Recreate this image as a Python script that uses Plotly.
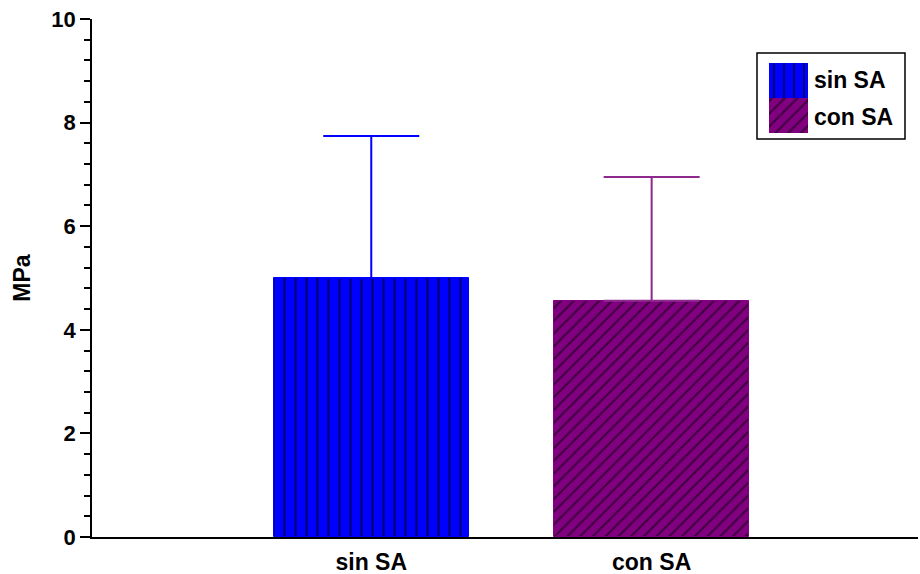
import plotly.graph_objects as go

# Data
categories = ["sin SA", "con SA"]
means = [5.0, 4.56]
errors_up = [2.74, 2.39]
y_ticks = [0, 2, 4, 6, 8, 10]

fill_colors = ["#0000FF", "#800080"]
err_colors = ["#0000FF", "#8E2A8E"]
patterns = ["|", "/"]
pattern_sizes = [11, 9]

FONT = "Liberation Sans, Arial, sans-serif"
FSIZE = 23

fig = go.Figure()

for i, cat in enumerate(categories):
    fig.add_trace(go.Bar(
        x=[cat], y=[means[i]], width=0.695, name=cat,
        marker=dict(color=fill_colors[i],
                    line=dict(color=fill_colors[i], width=1),
                    pattern=dict(shape=patterns[i], fgcolor="black",
                                 bgcolor=fill_colors[i], size=pattern_sizes[i],
                                 solidity=0.22, fillmode="overlay")),
        error_y=dict(type="data", symmetric=False, array=[errors_up[i]],
                     arrayminus=[0], color=err_colors[i], thickness=2, width=48),
        showlegend=False, xaxis="x", yaxis="y",
    ))

# Legend swatches drawn as stacked bars on a small inset axis
for i, cat in enumerate(categories):
    fig.add_trace(go.Bar(
        x=[0], y=[1], base=[1 - i], width=1,
        marker=dict(color=fill_colors[i], line=dict(width=0),
                    pattern=dict(shape=patterns[i], fgcolor="black",
                                 bgcolor=fill_colors[i], size=[10, 9][i],
                                 solidity=0.22, fillmode="overlay")),
        showlegend=False, hoverinfo="skip", xaxis="x2", yaxis="y2",
    ))

L, T, B, R = 92, 19, 37, 2
W, H = 920, 574
pw, ph = W - L - R, H - T - B

def px(x):
    return (x - L) / pw

def py(y):
    return (H - B - y) / ph

annotations = []
for i, cat in enumerate(categories):
    annotations.append(dict(
        x=px(812), y=py([80, 117][i]), xref="paper", yref="paper",
        text=f"<b>{cat}</b>", showarrow=False, xanchor="left", yanchor="middle",
        font=dict(family=FONT, size=FSIZE, color="black"),
    ))

fig.update_layout(
    width=W, height=H,
    margin=dict(l=L, r=R, t=T, b=B),
    paper_bgcolor="white", plot_bgcolor="white",
    barmode="overlay",
    font=dict(family=FONT, color="black"),
    xaxis=dict(
        type="category", categoryorder="array", categoryarray=categories,
        range=[-0.996, 1.95], showgrid=False, zeroline=False, automargin=False,
        showline=True, linecolor="black", linewidth=1.5,
        ticks="outside", ticklen=4, tickcolor="rgba(0,0,0,0)",
        tickfont=dict(family=FONT, size=FSIZE, color="black"),
        ticktext=[f"<b>{c}</b>" for c in categories], tickvals=categories,
    ),
    yaxis=dict(
        range=[0, 10], showgrid=False, zeroline=False, automargin=False,
        showline=True, linecolor="black", linewidth=1.5,
        ticks="outside", ticklen=10, tickwidth=1.5, tickcolor="black",
        tickvals=y_ticks, ticktext=[f"<b>{v}</b>" for v in y_ticks],
        tickfont=dict(family=FONT, size=22, color="black"),
        minor=dict(dtick=0.4, ticks="outside", ticklen=6, tickwidth=1.5,
                   tickcolor="black", showgrid=False),
        title=dict(text="<b>MPa</b>", font=dict(family=FONT, size=FSIZE, color="black"),
                   standoff=14),
    ),
    xaxis2=dict(domain=[px(769), px(808)], anchor="y2", range=[-0.5, 0.5],
                visible=False, fixedrange=True),
    yaxis2=dict(domain=[py(133), py(63)], anchor="x2", range=[0, 2],
                visible=False, fixedrange=True),
    shapes=[dict(type="rect", xref="paper", yref="paper",
                 x0=px(757), x1=px(905), y0=py(139), y1=py(53),
                 line=dict(color="black", width=1.5), fillcolor="rgba(0,0,0,0)",
                 layer="below")],
    annotations=annotations,
    bargap=0,
)

fig.write_html("out.html")
